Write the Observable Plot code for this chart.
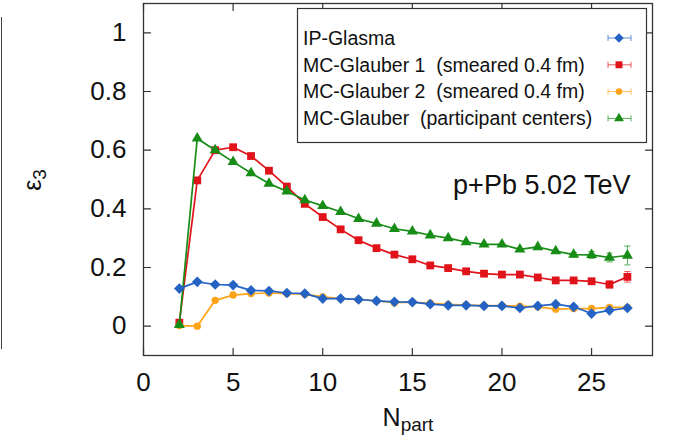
<!DOCTYPE html>
<html><head><meta charset="utf-8">
<script src="https://cdn.jsdelivr.net/npm/d3@7"></script>
<script src="https://cdn.jsdelivr.net/npm/@observablehq/plot@0.6"></script>
<style>
html,body{margin:0;padding:0;background:#fff;}
#wrap{position:relative;width:673px;height:446px;overflow:hidden;font-family:"Liberation Sans",Arial,Helvetica,sans-serif;color:#111;}
#edge{position:absolute;left:1px;top:17px;width:1px;height:332px;background:#444;z-index:2;}
#ylab{position:absolute;left:32px;top:180px;transform:translate(-50%,-50%) rotate(-90deg);font-size:25px;white-space:nowrap;line-height:1;}
#xlab{position:absolute;left:408px;top:430px;transform:translate(-50%,-100%);font-size:25px;white-space:nowrap;line-height:1;}
.sub{font-size:19px;position:relative;top:5px;}
</style></head><body>
<div id="wrap"><div id="edge"></div></div>
<script>
const npart = [2,3,4,5,6,7,8,9,10,11,12,13,14,15,16,17,18,19,20,21,22,23,24,25,26,27];
const ipGlasma = [0.128,0.151,0.142,0.140,0.122,0.120,0.113,0.111,0.094,0.094,0.091,0.086,0.083,0.082,0.075,0.071,0.071,0.069,0.069,0.062,0.069,0.075,0.066,0.043,0.054,0.062];
const mcGlauber1 = [0.012,0.497,0.600,0.610,0.580,0.530,0.476,0.417,0.372,0.330,0.293,0.266,0.244,0.228,0.207,0.198,0.187,0.179,0.176,0.176,0.166,0.156,0.156,0.153,0.142,0.168];
const mcGlauber2 = [0.002,0.000,0.088,0.106,0.111,0.113,0.111,0.109,0.100,0.094,0.091,0.086,0.080,0.082,0.078,0.074,0.072,0.070,0.070,0.068,0.066,0.058,0.060,0.060,0.064,0.064];
const mcGlauberPart = [0.005,0.640,0.600,0.560,0.522,0.486,0.460,0.430,0.410,0.390,0.366,0.350,0.332,0.323,0.310,0.300,0.287,0.279,0.279,0.262,0.270,0.256,0.244,0.243,0.234,0.241];
const errIpGlasma = [0,0,0,0,0,0,0,0,0,0,0,0,0,0,0,0,0,0,0,0,0,0,0,0,0,0];
const errMcGlauber1 = [0,0,0,0,0,0,0,0,0,0,0,0,0,0,0,0,0,0,0,0,0,0,0,0.006,0.012,0.018];
const errMcGlauber2 = [0,0,0,0,0,0,0,0,0,0,0,0,0,0,0,0,0,0,0,0,0,0,0,0,0,0];
const errMcGlauberPart = [0,0,0,0,0,0,0,0,0,0,0,0,0,0,0,0,0,0,0,0,0,0,0.008,0.012,0.015,0.032];
const seriesNames = ["IP-Glasma","MC-Glauber 1  (smeared 0.4 fm)","MC-Glauber 2  (smeared 0.4 fm)","MC-Glauber  (participant centers)"];
const seriesColors = ["#2463c4","#e0131a","#ffa319","#178c17"];
const seriesSymbols = ["diamond2","square","circle","triangle"];
const xTicks = [0,5,10,15,20,25];
const yTicks = [0,0.2,0.4,0.6,0.8,1];
const annotation = "p+Pb 5.02 TeV";

const values = [ipGlasma, mcGlauber1, mcGlauber2, mcGlauberPart];
const errs = [errIpGlasma, errMcGlauber1, errMcGlauber2, errMcGlauberPart];
const rows = [];
values.forEach((vals, s) => vals.forEach((v, i) => rows.push({series: seriesNames[s], s, x: npart[i], y: v, err: errs[s][i]})));

const tickShape = {draw(ctx, l){ ctx.moveTo(0,0); ctx.lineTo(0,-l); }};
const capSymbol = {draw(ctx, size){ const r = Math.sqrt(size/Math.PI); ctx.moveTo(-r,0); ctx.lineTo(r,0); }};
const frameColor = "#333";
const drawOrder = [1,2,3,0];
const symbolR = [4.8,4.4,3.7,4.1];

const marks = [];
for (const s of drawOrder) {
  const data = rows.filter(d => d.s === s);
  const eb = data.filter(d => d.err > 0);
  marks.push(
    Plot.ruleX(eb, {x:"x", y1: d => d.y - d.err, y2: d => d.y + d.err, stroke: seriesColors[s], strokeWidth: 1, strokeOpacity: 0.7}),
    Plot.dot(eb, {x:"x", y: d => d.y - d.err, symbol: capSymbol, r: 3.2, stroke: seriesColors[s], strokeWidth: 1, strokeOpacity: 0.7}),
    Plot.dot(eb, {x:"x", y: d => d.y + d.err, symbol: capSymbol, r: 3.2, stroke: seriesColors[s], strokeWidth: 1, strokeOpacity: 0.7}),
    Plot.line(data, {x:"x", y:"y", stroke: seriesColors[s], strokeWidth: 1.7}),
    Plot.dot(data, {x:"x", y:"y", symbol: seriesSymbols[s], r: symbolR[s], fill: seriesColors[s], stroke: "none"})
  );
}

const chart = Plot.plot({
  width: 673, height: 446,
  marginLeft: 143, marginRight: 21, marginTop: 3, marginBottom: 91,
  style: {fontFamily: '"Liberation Sans", Arial, Helvetica, sans-serif', fontSize: "26px", color: "#111", background: "white"},
  x: {domain: [0, 28.4]},
  y: {domain: [-0.1, 1.1]},
  marks: [
    ...marks,
    Plot.frame({stroke: frameColor, strokeWidth: 1.3}),
    Plot.vector(yTicks, {y: d => d, frameAnchor: "left", rotate: 90, length: 7, anchor: "start", shape: tickShape, stroke: frameColor, strokeWidth: 1.2}),
    Plot.vector(yTicks, {y: d => d, frameAnchor: "right", rotate: -90, length: 7, anchor: "start", shape: tickShape, stroke: frameColor, strokeWidth: 1.2}),
    Plot.vector(xTicks, {x: d => d, frameAnchor: "bottom", rotate: 0, length: 7, anchor: "start", shape: tickShape, stroke: frameColor, strokeWidth: 1.2}),
    Plot.vector(xTicks, {x: d => d, frameAnchor: "top", rotate: 180, length: 7, anchor: "start", shape: tickShape, stroke: frameColor, strokeWidth: 1.2}),
    Plot.axisY(yTicks, {tickSize: 0, tickPadding: 17, tickFormat: d => String(+d.toFixed(1)), label: null, fontSize: 26}),
    Plot.axisX(xTicks, {tickSize: 0, tickPadding: 17, tickFormat: d => String(d), label: null, fontSize: 26}),
    Plot.text([annotation], {text: d => d, frameAnchor: "top-right", dx: -22, dy: 171, textAnchor: "end", lineAnchor: "top", fontSize: 27, fill: "#111"})
  ]
});

// Legend drawn inside the SVG
const svg = d3.select(chart);
const lg = svg.append("g").attr("font-size", 19.5).attr("fill", "#111").attr("text-anchor", "start");
lg.append("rect").attr("x", 297.5).attr("y", 8.5).attr("width", 349).attr("height", 134).attr("fill", "white").attr("stroke", frameColor).attr("stroke-width", 1.2);
const legendSym = [d3.symbolDiamond2, d3.symbolSquare, d3.symbolCircle, d3.symbolTriangle];
seriesNames.forEach((name, i) => {
  const cy = 38 + i * 26.8;
  lg.append("text").attr("x", 303).attr("y", cy).attr("dy", "0.35em").attr("text-anchor", "start").style("white-space", "pre").attr("xml:space", "preserve").text(name);
  const eg = lg.append("g").attr("stroke", seriesColors[i]).attr("stroke-width", 1).attr("stroke-opacity", 0.7);
  eg.append("line").attr("x1", 608).attr("x2", 631).attr("y1", cy).attr("y2", cy);
  eg.append("line").attr("x1", 608).attr("x2", 608).attr("y1", cy - 3).attr("y2", cy + 3);
  eg.append("line").attr("x1", 631).attr("x2", 631).attr("y1", cy - 3).attr("y2", cy + 3);
  lg.append("path").attr("transform", `translate(619,${cy})`).attr("d", d3.symbol(legendSym[i], Math.PI * symbolR[i] * symbolR[i] * 0.8)()).attr("fill", seriesColors[i]);
});

const wrap = document.getElementById("wrap");
wrap.appendChild(chart);
chart.style.position = "absolute"; chart.style.left = "0"; chart.style.top = "0";
const yl = document.createElement("div"); yl.id = "ylab"; yl.innerHTML = 'ε<span class="sub">3</span>'; wrap.appendChild(yl);
const xl = document.createElement("div"); xl.id = "xlab"; xl.innerHTML = 'N<span class="sub">part</span>'; wrap.appendChild(xl);
</script>
</body></html>
